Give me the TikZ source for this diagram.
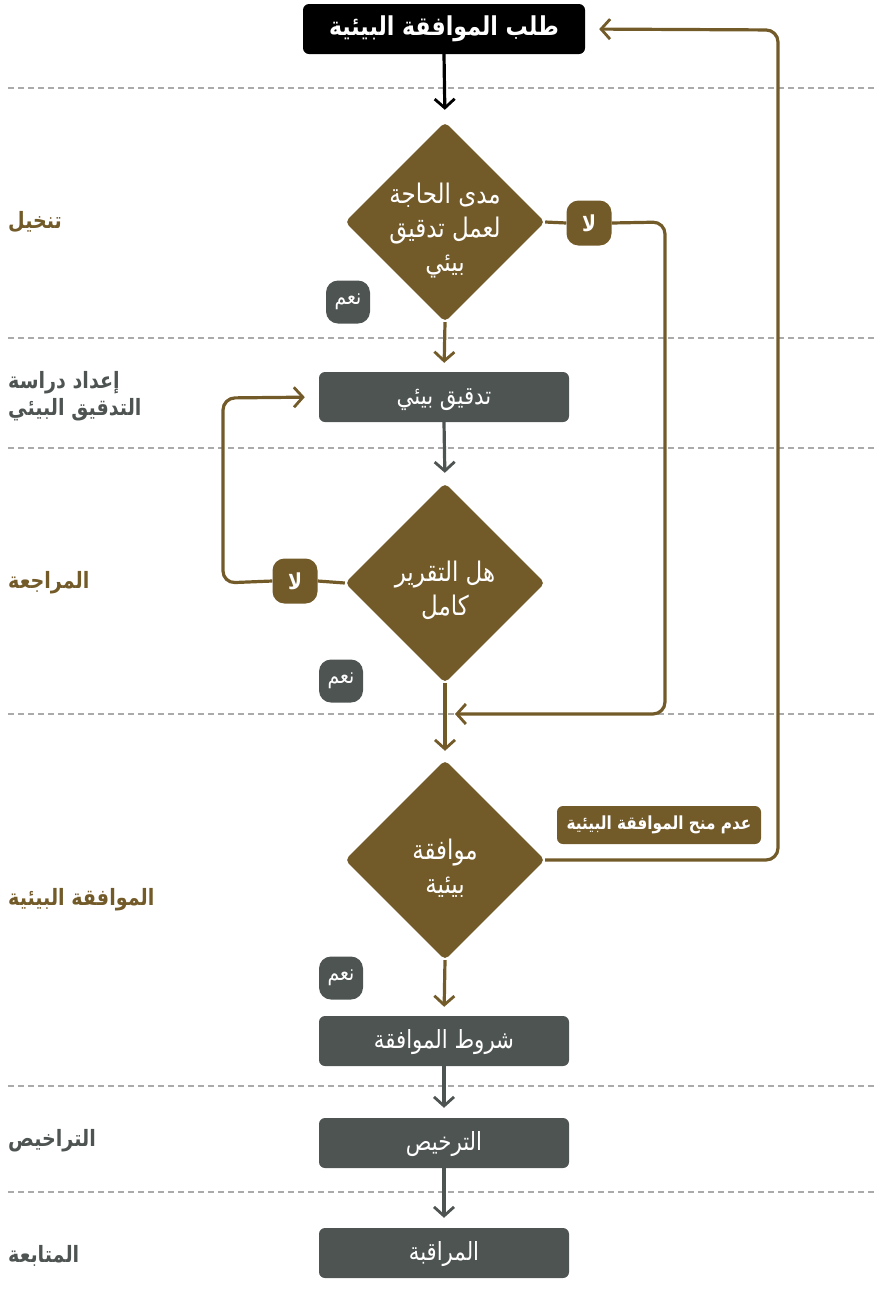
\documentclass[tikz,border=0pt]{standalone}
\usepackage{fontspec}
\TeXXeTstate=1
\newfontfamily\arabicfont[Script=Arabic, FakeStretch=0.85]{DejaVu Sans}
\usetikzlibrary{arrows.meta,shapes.geometric}
\definecolor{brn}{HTML}{735A29}
\definecolor{dgr}{HTML}{4E5452}
\definecolor{dsh}{HTML}{AAAAAA}
\newcommand{\ar}[1]{{\arabicfont\beginR #1\endR}}
\tikzset{
  x=1pt, y=-1pt,
  sepline/.style={dsh, line width=1.2pt, dash pattern=on 6pt off 4pt},
  topbox/.style={fill=black, rounded corners=6pt, minimum width=282pt, minimum height=50pt, text=white, font=\fontsize{26}{30}\selectfont\bfseries},
  stepbox/.style={fill=dgr, rounded corners=6pt, minimum width=250pt, minimum height=50pt, text=white, text height=17pt, text depth=3pt, font=\fontsize{25}{28}\selectfont},
  dia/.style={shape=diamond, fill=brn, minimum width=200pt, minimum height=200pt, inner sep=0pt, rounded corners=5pt},
  diatext/.style={text=white, align=center, font=\fontsize{27}{34}\selectfont},
  pillb/.style={fill=brn, rounded corners=12pt, minimum width=45pt, minimum height=45pt, inner sep=0pt, text=white, font=\fontsize{22}{24}\selectfont\bfseries},
  pillg/.style={fill=dgr, rounded corners=12pt, minimum width=44pt, minimum height=43pt, inner sep=0pt, text=white, font=\fontsize{22}{24}\selectfont},
  tagbox/.style={fill=brn, rounded corners=6pt, minimum width=204pt, minimum height=38pt, inner sep=0pt, text=white, font=\fontsize{18}{20}\selectfont\bfseries},
  lanelab/.style={anchor=west, align=left, inner sep=0pt, font=\fontsize{22.5}{27}\selectfont\bfseries},
  tip/.style={-{Straight Barb[length=9pt,width=20pt,line width=2.8pt]}},
  bline/.style={brn, line width=3.2pt},
  gline/.style={dgr, line width=3.2pt},
  kline/.style={black, line width=3.2pt},
}
\begin{document}
\begin{tikzpicture}
\useasboundingbox (0,0) rectangle (876,1302);
% lane separators
\foreach \yy in {88,338,448,714,1086,1192}
  \draw[sepline] (8,\yy) -- (876,\yy);
% lane labels
\node[lanelab, text=brn] (l1) at (8,222) {\ar{تنخيل}};
\node[lanelab, text=dgr] (l2) at (8,396) {\ar{إعداد دراسة}\\\ar{التدقيق البيئي}};
\node[lanelab, text=brn] (l3) at (8,583) {\ar{المراجعة}};
\node[lanelab, text=brn] (l4) at (8,900) {\ar{الموافقة البيئية}};
\node[lanelab, text=dgr] (l5) at (8,1141) {\ar{التراخيص}};
\node[lanelab, text=dgr] (l6) at (8,1256) {\ar{المتابعة}};
% main nodes
\node[topbox] (req) at (444,29) {\ar{طلب الموافقة البيئية}};
\node[dia] (d1) at (445,222) {};
\node[diatext] (d1t) at ([yshift=-9pt]d1.center) {\ar{مدى الحاجة}\\\ar{لعمل تدقيق}\\\ar{بيئي}};
\node[stepbox] (audit) at (444,397) {\ar{تدقيق بيئي}};
\node[dia] (d2) at (445,583) {};
\node[diatext] (d2t) at ([yshift=-7pt]d2.center) {\ar{هل التقرير}\\\ar{كامل}};
\node[dia] (d3) at (445,860) {};
\node[diatext] (d3t) at ([yshift=-8pt]d3.center) {\ar{موافقة}\\\ar{بيئية}};
\node[stepbox] (cond) at (444,1041) {\ar{شروط الموافقة}};
\node[stepbox] (lic) at (444,1143) {\ar{الترخيص}};
\node[stepbox] (mon) at (444,1253) {\ar{المراقبة}};
% pills
\node[pillb] (no1) at (589,223) {\ar{لا}};
\node[pillg] (yes1) at (348,302) {\ar{نعم}};
\node[pillb] (no2) at (295,581) {\ar{لا}};
\node[pillg] (yes2) at (341,681) {\ar{نعم}};
\node[pillg] (yes3) at (341,978) {\ar{نعم}};
\node[tagbox] (deny) at (659,825) {\ar{عدم منح الموافقة البيئية}};
% helper coordinates
\coordinate (c1a) at (665,222);
\coordinate (c1b) at (665,714);
\coordinate (j1) at (445,714);
\coordinate (c2a) at (223,583);
\coordinate (c2b) at (223,398);
\coordinate (c3a) at (778,860);
\coordinate (c3b) at (778,30);
% connectors
\draw[kline, tip, shorten >=12pt] (req.south) -- (d1.north);
\draw[bline, tip, shorten >=9pt] (d1.south) -- (audit.north);
\draw[gline, tip, shorten >=10pt] (audit.south) -- (d2.north);
\draw[bline, tip, shorten >=9pt] (d2.south) -- (d3.north);
\draw[bline, tip, shorten >=9pt] (d3.south) -- (cond.north);
\draw[gline, tip, shorten >=10pt] (cond.south) -- (lic.north);
\draw[gline, tip, shorten >=10pt] (lic.south) -- (mon.north);
% no branch 1
\draw[bline] (d1.east) -- (no1.west);
\draw[bline, tip, rounded corners=12pt] (no1.east) -- (c1a) -- (c1b) -- ([xshift=10pt]j1);
% no branch 2
\draw[bline] (d2.west) -- (no2.east);
\draw[bline, tip, rounded corners=12pt, shorten >=14pt] (no2.west) -- (c2a) -- (c2b) -- (audit.west);
% deny branch
\draw[bline, tip, rounded corners=12pt, shorten >=14pt] (d3.east) -- (c3a) -- (c3b) -- (req.east);
\end{tikzpicture}
\end{document}
